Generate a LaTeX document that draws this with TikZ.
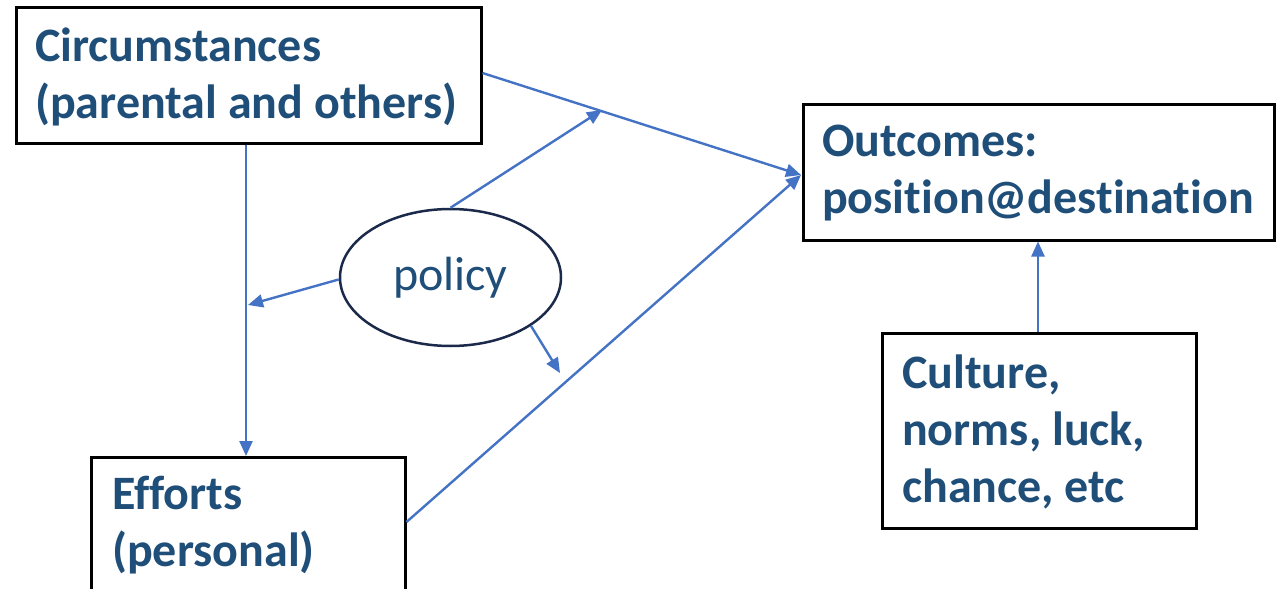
\documentclass[tikz,border=0pt]{standalone}
\usepackage{fontspec}
\setmainfont[Ligatures=CommonOff]{Carlito}
\usetikzlibrary{arrows.meta,shapes.geometric}
\definecolor{labelblue}{HTML}{1F4E79}
\definecolor{linkblue}{HTML}{4472C4}
\definecolor{ovalnavy}{HTML}{1B2A4A}
\tikzset{
  box/.style={draw=black, line width=2.5pt, rectangle, inner sep=0pt, anchor=north west},
  boxtext/.style={inner sep=0pt, anchor=base west, align=left, text=labelblue,
    font=\fontsize{48}{57}\selectfont\bfseries},
  link/.style={draw=linkblue, line width=2.4pt, -{Triangle[length=15pt,width=13pt]}},
}
\begin{document}
\begin{tikzpicture}[x=1pt, y=-1pt]
  \useasboundingbox (0,0) rectangle (1283,589);
  \clip (0,0) rectangle (1283,589);

  % boxes
  \node[box, minimum width=465pt, minimum height=136pt] (circ) at (15,6) {};
  \node[box, minimum width=471pt, minimum height=136pt] (outc) at (802,103) {};
  \node[box, minimum width=314pt, minimum height=180pt] (eff) at (90,456) {};
  \node[box, minimum width=314pt, minimum height=195pt] (cult) at (881,332) {};

  % box labels (anchored at the baseline of the last line)
  \node[boxtext] (circt) at (35,118) {Circumstances\\(parental and others)};
  \node[boxtext] (outct) at (822,213) {Outcomes:\\position@destination};
  \node[boxtext] (efft) at (112,566) {Efforts\\(personal)};
  \node[boxtext] (cultt) at (902,502) {Culture,\\norms, luck,\\chance, etc};

  % policy oval
  \node[draw=ovalnavy, line width=2.5pt, ellipse, minimum width=221pt, minimum height=137pt,
        inner sep=0pt, text=labelblue, font=\fontsize{48}{57}\selectfont] (pol) at (450.5,277.5) {policy};

  % junction points on the connectors
  \coordinate (meet) at (801,175);
  \coordinate (vmid) at (248,305);
  \coordinate (upmid) at (602,110);
  \coordinate (lowmid) at (560,373);

  % connectors
  \draw[link] (circ.east |- 0,73) -- (meet);
  \draw[link] (eff.east |- 0,522) -- (meet);
  \draw[link] (circ.south -| 246,0) -- (eff.north -| 246,0);
  \draw[link] (cult.north -| 1038,0) -- (outc.south -| 1038,0);
  \draw[link] (pol.181) -- (vmid);
  \draw[link] (pol.north) -- (upmid);
  \draw[link] (pol.-31) -- (lowmid);
\end{tikzpicture}
\end{document}
